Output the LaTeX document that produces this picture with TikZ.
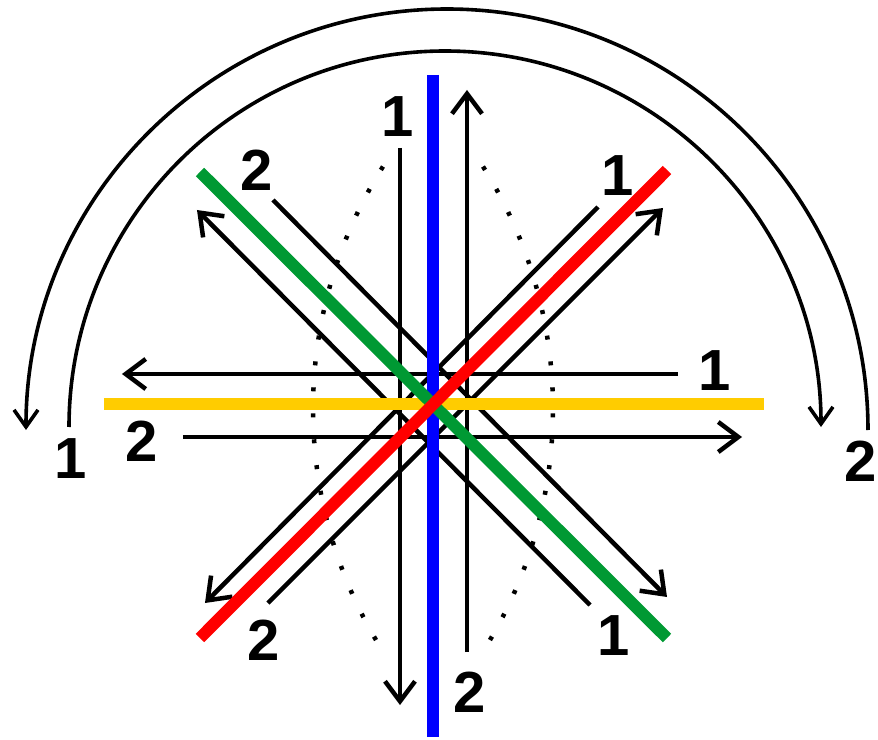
\documentclass[tikz,border=0pt]{standalone}
\usepackage{fontspec}
\newfontfamily\numfont{Liberation Sans}
\usetikzlibrary{arrows.meta}
\definecolor{axisgreen}{HTML}{009933}
\definecolor{axisyellow}{HTML}{FFCC00}

\begin{document}
\begin{tikzpicture}[x=1pt, y=1pt,
    axis/.style={line width=12pt},
    track/.style={line width=4.5pt},
    flow/.style={track, -{Straight Barb[length=20pt, width=30pt]}},
    guide/.style={line width=4.5pt, dash pattern=on 4pt off 22pt},
    swing/.style={line width=3.6pt, -{Straight Barb[length=17pt, width=24pt]}},
    num/.style={font=\numfont\bfseries\fontsize{58}{60}\selectfont, inner sep=0pt}
  ]
  \useasboundingbox (-433,-335) rectangle (445,404);

  % Line ends
  \coordinate (v1s) at (-33,256);   \coordinate (v1t) at (-33,-301);
  \coordinate (v2s) at (34,-248);   \coordinate (v2t) at (34,314);
  \coordinate (h1s) at (245,30);    \coordinate (h1t) at (-311,30);
  \coordinate (h2s) at (-250,-33);  \coordinate (h2t) at (309,-33);
  \coordinate (g1s) at (157,-201);  \coordinate (g1t) at (-236,194);
  \coordinate (g2s) at (-160,204);  \coordinate (g2t) at (234,-193);
  \coordinate (r1s) at (165,197);   \coordinate (r1t) at (-228,-199);
  \coordinate (r2s) at (-165,-199); \coordinate (r2t) at (230,196);
  \coordinate (lensl) at (335,-5);  \coordinate (lensr) at (-335,-5);
  \coordinate (outerc) at (14,-26); \coordinate (innerc) at (12,-23);

  % Dotted lens
  \draw[guide] ([shift={(147.8:455)}]lensl) arc[start angle=147.8, end angle=212.2, radius=455];
  \draw[guide] ([shift={(32.2:455)}]lensr) arc[start angle=32.2, end angle=-32.2, radius=455];

  % Arrows
  \draw[flow] (v1s) -- (v1t);
  \draw[flow] (v2s) -- (v2t);
  \draw[flow] (h1s) -- (h1t);
  \draw[flow] (h2s) -- (h2t);
  \draw[flow] (g1s) -- (g1t);
  \draw[flow] (g2s) -- (g2t);
  \draw[flow] (r1s) -- (r1t);
  \draw[flow] (r2s) -- (r2t);

  % Axes
  \draw[axis, blue] (0,329) coordinate (bluet) -- (0,-333) coordinate (blueb);
  \draw[axis, axisyellow] (-329,0) coordinate (yell) -- (331,0) coordinate (yelr);
  \draw[axis, axisgreen] (-233,232) coordinate (grnt) -- (234,-234) coordinate (grnb);
  \draw[axis, red] (-233,-234) coordinate (redb) -- (234,234) coordinate (redt);

  % Turns
  \draw[swing] ([shift={(0:421)}]outerc) arc[start angle=0, end angle=180, radius=421];
  \draw[swing] ([shift={(180:376)}]innerc) arc[start angle=180, end angle=0, radius=376];

  % Labels
  \node[num] (v1n) at (-35,287) {1};
  \node[num] (v2n) at (37,-288) {2};
  \node[num] (h1n) at (282,33) {1};
  \node[num] (h2n) at (-291,-37) {2};
  \node[num] (g1n) at (181,-232) {1};
  \node[num] (g2n) at (-176,234) {2};
  \node[num] (r1n) at (185,228) {1};
  \node[num] (r2n) at (-169,-236) {2};
  \node[num] (innern) at (-362,-55) {1};
  \node[num] (outern) at (428,-57) {2};
\end{tikzpicture}
\end{document}
